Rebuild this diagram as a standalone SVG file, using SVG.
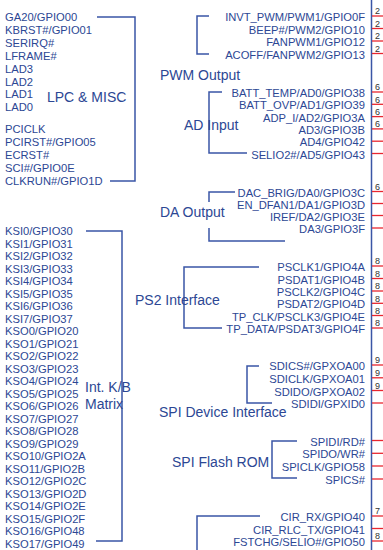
<svg xmlns="http://www.w3.org/2000/svg" width="383" height="550" viewBox="0 0 383 550">
<style>
.p{font-family:"Liberation Sans",Arial,sans-serif;font-size:11.2px;fill:#2c4794}
.r{text-anchor:end}
.t{font-family:"Liberation Sans",Arial,sans-serif;font-size:14px;fill:#2c4794}
.n{font-family:"Liberation Sans",Arial,sans-serif;font-size:9px;fill:#333}
.b{stroke:#3a56a6;stroke-width:1.5;fill:none}
.red{stroke:#e8262f;stroke-width:1.3}
</style>
<rect width="383" height="550" fill="#fff"/>
<g id="connectors">
<polyline class="b" points="97,17 135,17 135,181 110,181"/>
<polyline class="b" points="86,231 122,231 122,541 96,541"/>
<polyline class="b" points="209,16 197,16 197,54 209,54"/>
<polyline class="b" points="222,92 209,92 209,153 247,153"/>
<polyline class="b" points="235,192 209,192 209,202"/>
<polyline class="b" points="209,228 209,241 285,241"/>
<polyline class="b" points="259,267 184,267 184,328 222,328"/>
<polyline class="b" points="259,366 247,366 247,403 272,403"/>
<polyline class="b" points="297,441 272,441 272,478 297,478"/>
<polyline class="b" points="260,516 197,516 197,550"/>
<line class="b" x1="371.5" y1="0" x2="371.5" y2="550"/>
<g class="red">
<line x1="372" y1="16" x2="383" y2="16"/><line x1="372" y1="28.5" x2="383" y2="28.5"/><line x1="372" y1="41" x2="383" y2="41"/><line x1="372" y1="53.5" x2="383" y2="53.5"/>
<line x1="372" y1="92" x2="383" y2="92"/><line x1="372" y1="104.3" x2="383" y2="104.3"/><line x1="372" y1="116.6" x2="383" y2="116.6"/><line x1="372" y1="128.9" x2="383" y2="128.9"/><line x1="372" y1="141.2" x2="383" y2="141.2"/><line x1="372" y1="153.5" x2="383" y2="153.5"/>
<line x1="372" y1="191.5" x2="383" y2="191.5"/><line x1="372" y1="203.5" x2="383" y2="203.5"/><line x1="372" y1="215.5" x2="383" y2="215.5"/><line x1="372" y1="228" x2="383" y2="228"/>
<line x1="372" y1="266" x2="383" y2="266"/><line x1="372" y1="278.5" x2="383" y2="278.5"/><line x1="372" y1="291" x2="383" y2="291"/><line x1="372" y1="303.3" x2="383" y2="303.3"/><line x1="372" y1="315.5" x2="383" y2="315.5"/><line x1="372" y1="328" x2="383" y2="328"/>
<line x1="372" y1="365" x2="383" y2="365"/><line x1="372" y1="377.8" x2="383" y2="377.8"/><line x1="372" y1="390.5" x2="383" y2="390.5"/><line x1="372" y1="403" x2="383" y2="403"/>
<line x1="372" y1="440.5" x2="383" y2="440.5"/><line x1="372" y1="453.3" x2="383" y2="453.3"/><line x1="372" y1="466" x2="383" y2="466"/><line x1="372" y1="479" x2="383" y2="479"/>
<line x1="372" y1="516" x2="383" y2="516"/><line x1="372" y1="528.5" x2="383" y2="528.5"/><line x1="372" y1="541" x2="383" y2="541"/>
</g>
</g>
<g id="pin-numbers">
<text class="n" x="375" y="14">2</text><text class="n" x="375" y="27">2</text><text class="n" x="375" y="39">2</text><text class="n" x="375" y="52">2</text>
<text class="n" x="375" y="90">6</text><text class="n" x="375" y="103">6</text><text class="n" x="375" y="115">6</text><text class="n" x="375" y="127">6</text>
<text class="n" x="375" y="190">6</text>
<text class="n" x="375" y="264">8</text><text class="n" x="375" y="277">8</text><text class="n" x="375" y="289">8</text><text class="n" x="375" y="302">8</text><text class="n" x="375" y="314">8</text><text class="n" x="375" y="326">8</text>
<text class="n" x="375" y="363">9</text><text class="n" x="375" y="376">9</text><text class="n" x="375" y="389">9</text>
<text class="n" x="375" y="514">7</text><text class="n" x="375" y="539">8</text>
</g>
<g id="lpc-misc">
<text class="t" x="47" y="102">LPC &amp; MISC</text>
<text class="p" x="5" y="21">GA20/GPIO00</text>
<text class="p" x="5" y="34">KBRST#/GPIO01</text>
<text class="p" x="5" y="47">SERIRQ#</text>
<text class="p" x="5" y="60">LFRAME#</text>
<text class="p" x="5" y="72.6">LAD3</text>
<text class="p" x="5" y="85.5">LAD2</text>
<text class="p" x="5" y="98.4">LAD1</text>
<text class="p" x="5" y="111.3">LAD0</text>
<text class="p" x="5" y="132.5">PCICLK</text>
<text class="p" x="5" y="145.7">PCIRST#/GPIO05</text>
<text class="p" x="5" y="158.9">ECRST#</text>
<text class="p" x="5" y="172.1">SCI#/GPIO0E</text>
<text class="p" x="5" y="185.3">CLKRUN#/GPIO1D</text>
</g>
<g id="kb-matrix">
<text class="t" x="85" y="392">Int. K/B</text>
<text class="t" x="85" y="409">Matrix</text>
<text class="p" x="5" y="235">KSI0/GPIO30</text>
<text class="p" x="5" y="247.5">KSI1/GPIO31</text>
<text class="p" x="5" y="260">KSI2/GPIO32</text>
<text class="p" x="5" y="272.5">KSI3/GPIO33</text>
<text class="p" x="5" y="285">KSI4/GPIO34</text>
<text class="p" x="5" y="297.5">KSI5/GPIO35</text>
<text class="p" x="5" y="310">KSI6/GPIO36</text>
<text class="p" x="5" y="322.5">KSI7/GPIO37</text>
<text class="p" x="5" y="335">KSO0/GPIO20</text>
<text class="p" x="5" y="347.5">KSO1/GPIO21</text>
<text class="p" x="5" y="360">KSO2/GPIO22</text>
<text class="p" x="5" y="372.5">KSO3/GPIO23</text>
<text class="p" x="5" y="385">KSO4/GPIO24</text>
<text class="p" x="5" y="397.5">KSO5/GPIO25</text>
<text class="p" x="5" y="410">KSO6/GPIO26</text>
<text class="p" x="5" y="422.5">KSO7/GPIO27</text>
<text class="p" x="5" y="435">KSO8/GPIO28</text>
<text class="p" x="5" y="447.5">KSO9/GPIO29</text>
<text class="p" x="5" y="460">KSO10/GPIO2A</text>
<text class="p" x="5" y="472.5">KSO11/GPIO2B</text>
<text class="p" x="5" y="485">KSO12/GPIO2C</text>
<text class="p" x="5" y="497.5">KSO13/GPIO2D</text>
<text class="p" x="5" y="510">KSO14/GPIO2E</text>
<text class="p" x="5" y="522.5">KSO15/GPIO2F</text>
<text class="p" x="5" y="535">KSO16/GPIO48</text>
<text class="p" x="5" y="547.5">KSO17/GPIO49</text>
</g>
<g id="pwm-output">
<text class="t" x="160" y="80">PWM Output</text>
<text class="p r" x="365" y="21">INVT_PWM/PWM1/GPIO0F</text>
<text class="p r" x="365" y="33.5">BEEP#/PWM2/GPIO10</text>
<text class="p r" x="365" y="46">FANPWM1/GPIO12</text>
<text class="p r" x="365" y="58.5">ACOFF/FANPWM2/GPIO13</text>
</g>
<g id="ad-input">
<text class="t" x="184" y="130">AD Input</text>
<text class="p r" x="365" y="97">BATT_TEMP/AD0/GPIO38</text>
<text class="p r" x="365" y="109.3">BATT_OVP/AD1/GPIO39</text>
<text class="p r" x="365" y="121.6">ADP_I/AD2/GPIO3A</text>
<text class="p r" x="365" y="133.9">AD3/GPIO3B</text>
<text class="p r" x="365" y="146.2">AD4/GPIO42</text>
<text class="p r" x="365" y="158.5">SELIO2#/AD5/GPIO43</text>
</g>
<g id="da-output">
<text class="t" x="160" y="217">DA Output</text>
<text class="p r" x="365" y="196.5">DAC_BRIG/DA0/GPIO3C</text>
<text class="p r" x="365" y="208.5">EN_DFAN1/DA1/GPIO3D</text>
<text class="p r" x="365" y="220.5">IREF/DA2/GPIO3E</text>
<text class="p r" x="365" y="233">DA3/GPIO3F</text>
</g>
<g id="ps2-interface">
<text class="t" x="135" y="305">PS2 Interface</text>
<text class="p r" x="365" y="271">PSCLK1/GPIO4A</text>
<text class="p r" x="365" y="283.5">PSDAT1/GPIO4B</text>
<text class="p r" x="365" y="296">PSCLK2/GPIO4C</text>
<text class="p r" x="365" y="308.3">PSDAT2/GPIO4D</text>
<text class="p r" x="365" y="320.5">TP_CLK/PSCLK3/GPIO4E</text>
<text class="p r" x="365" y="333">TP_DATA/PSDAT3/GPIO4F</text>
</g>
<g id="spi-device">
<text class="t" x="159" y="417">SPI Device Interface</text>
<text class="p r" x="365" y="370">SDICS#/GPXOA00</text>
<text class="p r" x="365" y="382.8">SDICLK/GPXOA01</text>
<text class="p r" x="365" y="395.5">SDIDO/GPXOA02</text>
<text class="p r" x="365" y="408">SDIDI/GPXID0</text>
</g>
<g id="spi-flash">
<text class="t" x="172" y="467">SPI Flash ROM</text>
<text class="p r" x="365" y="445.5">SPIDI/RD#</text>
<text class="p r" x="365" y="458.3">SPIDO/WR#</text>
<text class="p r" x="365" y="471">SPICLK/GPIO58</text>
<text class="p r" x="365" y="484">SPICS#</text>
</g>
<g id="cir">
<text class="p r" x="365" y="521">CIR_RX/GPIO40</text>
<text class="p r" x="365" y="533.5">CIR_RLC_TX/GPIO41</text>
<text class="p r" x="365" y="546">FSTCHG/SELIO#/GPIO50</text>
</g>
</svg>
